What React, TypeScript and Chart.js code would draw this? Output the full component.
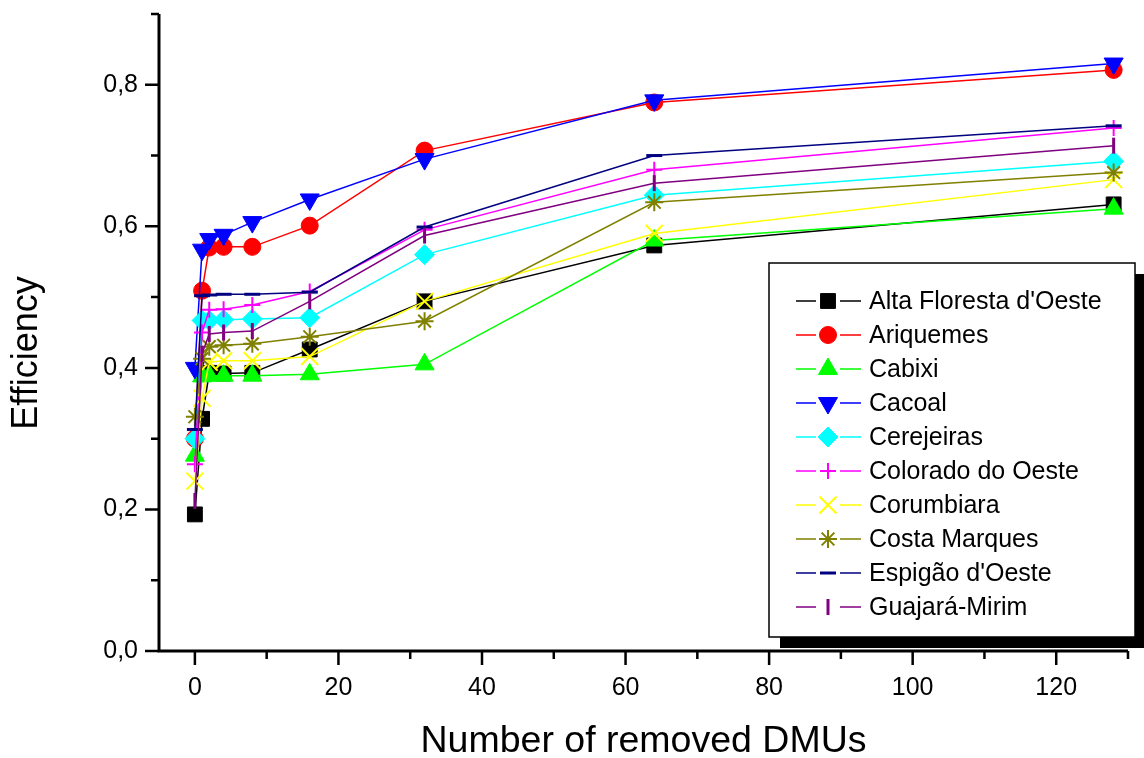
import React, { useEffect, useRef } from 'react';
import { Chart, registerables } from 'chart.js';
import { drawPoint } from 'chart.js/helpers';

Chart.register(...registerables);

const removedDMUs = [0, 1, 2, 4, 8, 16, 32, 64, 128];

const altaFloresta = [0.193, 0.328, 0.393, 0.392, 0.393, 0.426, 0.494, 0.573, 0.631];
const ariquemes = [0.300, 0.509, 0.570, 0.571, 0.571, 0.601, 0.707, 0.775, 0.821];
const cabixi = [0.276, 0.388, 0.389, 0.389, 0.389, 0.391, 0.405, 0.580, 0.625];
const cacoal = [0.400, 0.567, 0.582, 0.588, 0.606, 0.638, 0.695, 0.778, 0.830];
const cerejeiras = [0.300, 0.467, 0.467, 0.468, 0.469, 0.471, 0.560, 0.644, 0.692];
const coloradoDoOeste = [0.264, 0.450, 0.482, 0.483, 0.489, 0.508, 0.595, 0.680, 0.739];
const corumbiara = [0.240, 0.357, 0.408, 0.410, 0.410, 0.416, 0.494, 0.590, 0.666];
const costaMarques = [0.331, 0.413, 0.430, 0.432, 0.434, 0.444, 0.466, 0.634, 0.676];
const espigaoDOeste = [0.313, 0.502, 0.503, 0.504, 0.504, 0.507, 0.599, 0.700, 0.742];
const guajaraMirim = [0.212, 0.420, 0.448, 0.450, 0.452, 0.494, 0.587, 0.661, 0.714];

const seriesNames = [
  "Alta Floresta d'Oeste",
  'Ariquemes',
  'Cabixi',
  'Cacoal',
  'Cerejeiras',
  'Colorado do Oeste',
  'Corumbiara',
  'Costa Marques',
  "Espigão d'Oeste",
  'Guajará-Mirim',
];

const xMajorTicks = [0, 20, 40, 60, 80, 100, 120];
const xMinorTicks = [10, 30, 50, 70, 90, 110, 130];
const yMajorTicks = [0, 0.2, 0.4, 0.6, 0.8];
const yMinorTicks = [0.1, 0.3, 0.5, 0.7, 0.9];

const xTitle = 'Number of removed DMUs';
const yTitle = 'Efficiency';

const FONT = '"Liberation Sans", Arial, Helvetica, sans-serif';

type Marker = { style: any; radius: number; rotation: number; width: number };

const seriesValues = [
  altaFloresta, ariquemes, cabixi, cacoal, cerejeiras,
  coloradoDoOeste, corumbiara, costaMarques, espigaoDOeste, guajaraMirim,
];

const seriesColors = [
  '#000000', '#ff0000', '#00ff00', '#0000ff', '#00ffff',
  '#ff00ff', '#ffff00', '#808000', '#000080', '#800080',
];

const seriesMarkers: Marker[] = [
  { style: 'rect', radius: 10.5, rotation: 0, width: 1 },
  { style: 'circle', radius: 8.5, rotation: 0, width: 1 },
  { style: 'triangle', radius: 11, rotation: 0, width: 1 },
  { style: 'triangle', radius: 11, rotation: 180, width: 1 },
  { style: 'rectRot', radius: 10, rotation: 0, width: 1 },
  { style: 'cross', radius: 8, rotation: 0, width: 2 },
  { style: 'crossRot', radius: 12, rotation: 0, width: 2 },
  { style: 'star', radius: 9, rotation: 0, width: 2 },
  { style: 'line', radius: 8, rotation: 0, width: 3 },
  { style: 'line', radius: 8, rotation: 90, width: 3 },
];

const near = (list: number[], v: number) => list.some((t) => Math.abs(t - v) < 1e-6);

const decorPlugin = {
  id: 'originDecor',
  afterDraw(chart: any) {
    const ctx: CanvasRenderingContext2D = chart.ctx;
    const xs = chart.scales.x;
    const ys = chart.scales.y;
    const { left, right, top, bottom } = chart.chartArea;
    ctx.save();

    // axes lines
    ctx.strokeStyle = '#000';
    ctx.lineWidth = 3;
    ctx.lineCap = 'butt';
    ctx.beginPath();
    ctx.moveTo(left, top);
    ctx.lineTo(left, bottom + 1.5);
    ctx.moveTo(left - 1.5, bottom);
    ctx.lineTo(right, bottom);
    ctx.stroke();

    // tick marks
    ctx.lineWidth = 2.5;
    ctx.beginPath();
    for (const v of xMajorTicks) {
      const p = xs.getPixelForValue(v);
      ctx.moveTo(p, bottom);
      ctx.lineTo(p, bottom + 14);
    }
    for (const v of xMinorTicks) {
      const p = xs.getPixelForValue(v);
      ctx.moveTo(p, bottom);
      ctx.lineTo(p, bottom + 8);
    }
    for (const v of yMajorTicks) {
      const p = ys.getPixelForValue(v);
      ctx.moveTo(left, p);
      ctx.lineTo(left - 14, p);
    }
    for (const v of yMinorTicks) {
      const p = ys.getPixelForValue(v);
      ctx.moveTo(left, p);
      ctx.lineTo(left - 8, p);
    }
    ctx.stroke();

    // axis titles
    ctx.fillStyle = '#000';
    ctx.textAlign = 'center';
    ctx.textBaseline = 'alphabetic';
    ctx.font = `37.5px ${FONT}`;
    ctx.fillText(xTitle, (left + right) / 2, 752);
    ctx.font = `36px ${FONT}`;
    ctx.save();
    ctx.translate(37, 353);
    ctx.rotate(-Math.PI / 2);
    ctx.fillText(yTitle, 0, 0);
    ctx.restore();

    // legend
    const bx = 769, by = 263, bw = 366, bh = 374;
    ctx.fillStyle = '#000';
    ctx.fillRect(bx + 11, by + 11, bw, bh);
    ctx.fillStyle = '#fff';
    ctx.fillRect(bx, by, bw, bh);
    ctx.strokeStyle = '#000';
    ctx.lineWidth = 1.5;
    ctx.strokeRect(bx, by, bw, bh);

    ctx.font = `25px ${FONT}`;
    ctx.textAlign = 'left';
    ctx.textBaseline = 'middle';
    seriesNames.forEach((name, i) => {
      const y = 301 + i * 34;
      const color = seriesColors[i];
      const m = seriesMarkers[i];
      ctx.strokeStyle = color;
      ctx.lineWidth = 1.5;
      ctx.beginPath();
      ctx.moveTo(796, y);
      ctx.lineTo(816, y);
      ctx.moveTo(840, y);
      ctx.lineTo(861, y);
      ctx.stroke();
      ctx.fillStyle = color;
      ctx.strokeStyle = color;
      ctx.lineWidth = m.width;
      drawPoint(ctx, { pointStyle: m.style, rotation: m.rotation, radius: m.radius, borderWidth: m.width } as any, 828, y);
      ctx.fillStyle = '#000';
      ctx.fillText(name, 869, y + 1);
    });

    ctx.restore();
  },
};

export default function App() {
  const canvasRef = useRef<HTMLCanvasElement | null>(null);

  useEffect(() => {
    document.body.style.margin = '0';
    const canvas = canvasRef.current;
    if (!canvas) return;

    const datasets = seriesNames.map((name, i) => ({
      label: name,
      data: removedDMUs.map((x, j) => ({ x, y: seriesValues[i][j] })),
      borderColor: seriesColors[i],
      backgroundColor: seriesColors[i],
      borderWidth: 1.5,
      pointStyle: seriesMarkers[i].style,
      pointRadius: seriesMarkers[i].radius,
      pointRotation: seriesMarkers[i].rotation,
      pointBorderWidth: seriesMarkers[i].width,
      pointBackgroundColor: seriesColors[i],
      pointBorderColor: seriesColors[i],
      tension: 0,
      fill: false,
      order: seriesNames.length - i,
      clip: false as any,
    }));

    const chart = new Chart(canvas, {
      type: 'line',
      data: { datasets },
      options: {
        animation: false,
        responsive: false,
        maintainAspectRatio: false,
        layout: { padding: { top: 10, right: 16, left: 0, bottom: 0 } },
        plugins: {
          legend: { display: false },
          tooltip: { enabled: false },
          title: { display: false },
        },
        scales: {
          x: {
            type: 'linear',
            min: -5,
            max: 130,
            grid: { display: false, drawTicks: false },
            border: { display: false },
            ticks: {
              stepSize: 10,
              includeBounds: false,
              autoSkip: false,
              maxRotation: 0,
              padding: 22,
              color: '#000',
              font: { size: 25, family: FONT },
              callback: (v: any) => (near(xMajorTicks, Number(v)) ? String(v) : ''),
            },
            afterFit: (s: any) => {
              s.height = 107;
              s.paddingLeft = 0;
              s.paddingRight = 0;
            },
          },
          y: {
            type: 'linear',
            min: 0,
            max: 0.9,
            grid: { display: false, drawTicks: false },
            border: { display: false },
            ticks: {
              stepSize: 0.1,
              includeBounds: false,
              autoSkip: false,
              padding: 21,
              color: '#000',
              font: { size: 25, family: FONT },
              callback: (v: any) =>
                near(yMajorTicks, Number(v)) ? Number(v).toFixed(1).replace('.', ',') : '',
            },
            afterFit: (s: any) => {
              s.width = 159;
              s.paddingTop = 0;
              s.paddingBottom = 0;
            },
          },
        },
      },
      plugins: [decorPlugin],
    });

    return () => chart.destroy();
  }, []);

  return (
    <div style={{ width: 1144, height: 758, background: '#fff' }}>
      <canvas ref={canvasRef} width={1144} height={758} style={{ display: 'block' }} />
    </div>
  );
}
